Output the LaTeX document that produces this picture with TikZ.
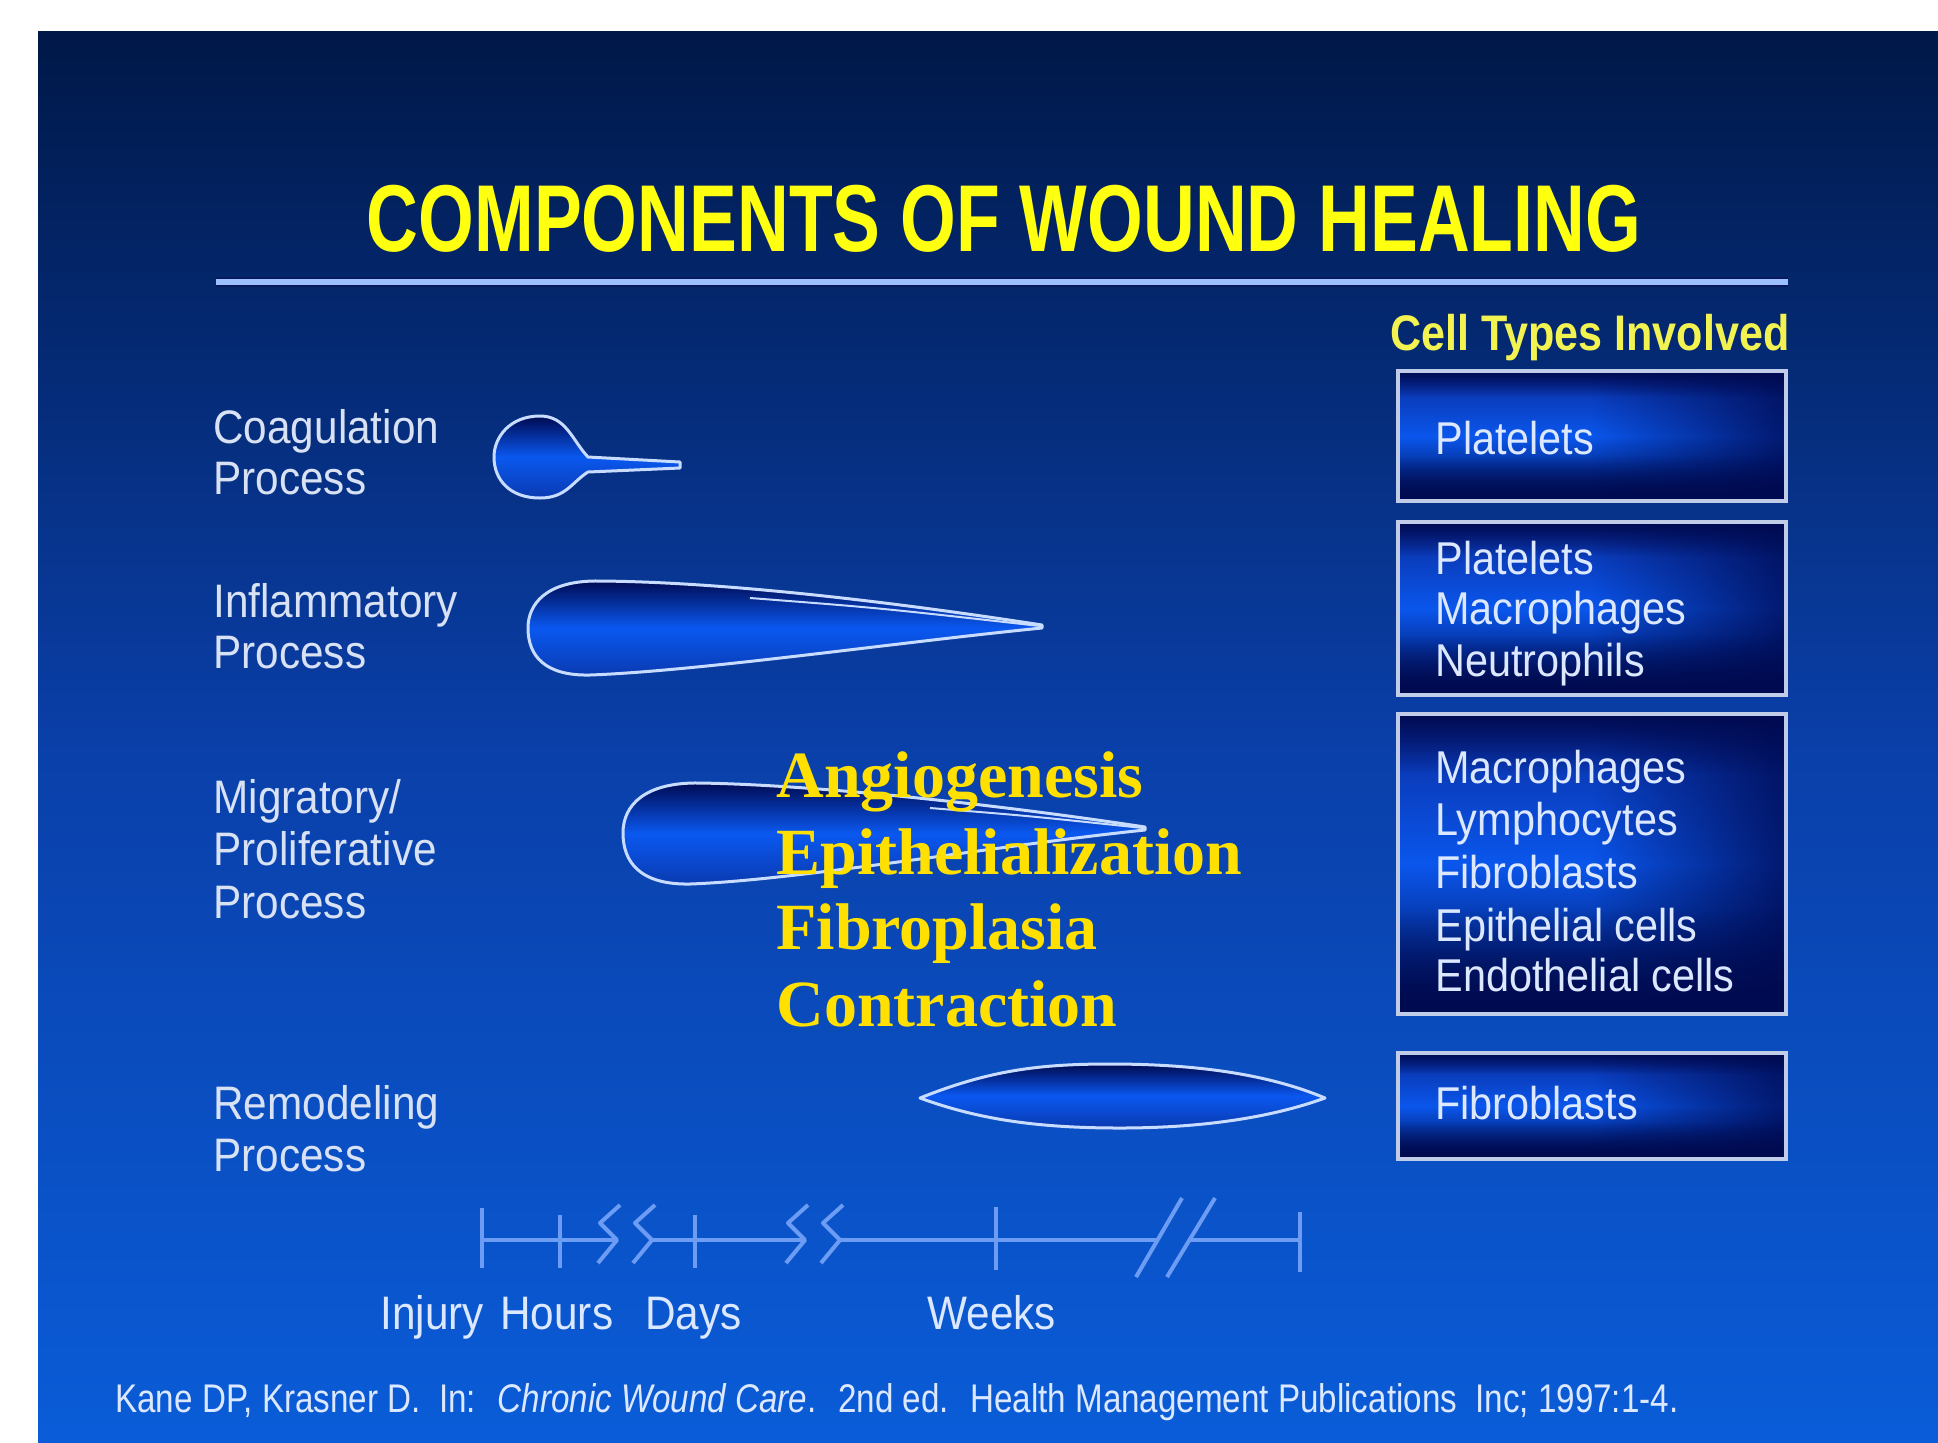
\documentclass[tikz,border=0pt]{standalone}
\usepackage{fontspec}
\setmainfont{Liberation Sans}
\newfontfamily\slidefont[FakeStretch=0.9]{Liberation Sans}
\newfontfamily\overfont{Liberation Serif}
\usepackage{graphicx}
\usetikzlibrary{fadings}
\definecolor{bgtop}{HTML}{001848}
\definecolor{bgmid}{HTML}{0A3FA8}
\definecolor{bgbot}{HTML}{0A5CD8}
\definecolor{titleyellow}{HTML}{FFFF10}
\definecolor{cellyellow}{HTML}{F2F250}
\definecolor{overyellow}{HTML}{FFE000}
\definecolor{labelcol}{HTML}{D8E2F4}
\definecolor{boxtext}{HTML}{DCE8FF}
\definecolor{tlcol}{HTML}{6C9CF4}
\definecolor{outlinecol}{HTML}{C8DCFF}
\definecolor{linelight}{HTML}{9CC0FF}
\definecolor{linedark}{HTML}{0A1860}
\definecolor{boxborder}{HTML}{C0CCE8}
\definecolor{boxtop}{HTML}{0A2C9C}
\definecolor{boxmid}{HTML}{0A56EC}
\definecolor{boxbot}{HTML}{000A48}
\definecolor{boxdark}{HTML}{000A50}
\definecolor{shapedark}{HTML}{000A50}
\definecolor{shapemid}{HTML}{0A58F0}
\definecolor{shapebot}{HTML}{0A3AB0}
\tikzfading[name=fadeR, left color=transparent!100, right color=transparent!0]
\tikzfading[name=fadeB, top color=transparent!100, bottom color=transparent!0]
\tikzfading[name=fadeT, top color=transparent!0, bottom color=transparent!100]
\newcommand\mycellbox[4]{%
  \shade[top color=boxtop, bottom color=boxbot, middle color=boxmid] (#1,#2) rectangle (#3,#4);
  \fill[boxdark, path fading=fadeR, opacity=0.8] ({#1+0.5*(#3-#1)},#2) rectangle (#3,#4);
  \fill[boxdark, path fading=fadeB] (#1,{#2+0.65*(#4-#2)}) rectangle (#3,#4);
  \fill[boxdark, path fading=fadeT] (#1,#2) rectangle (#3,{#2+0.2*(#4-#2)});
  \draw[boxborder, line width=2pt] (#1,#2) rectangle (#3,#4);
}
\tikzset{
  lbl/.style={anchor=base west, inner sep=0, text=labelcol, font=\slidefont\fontsize{23.5}{26}\selectfont},
  celltxt/.style={anchor=base west, inner sep=0, text=boxtext, font=\slidefont\fontsize{23}{26}\selectfont},
  tllbl/.style={anchor=base west, inner sep=0, text=boxtext, font=\slidefont\fontsize{23.5}{26}\selectfont},
  overtxt/.style={anchor=base west, inner sep=0, text=overyellow, font=\overfont\bfseries\fontsize{33}{38}\selectfont},
  wound/.style={draw=outlinecol, line width=1.5pt, line join=round, top color=shapedark, bottom color=shapebot, middle color=shapemid},
  innerline/.style={draw=outlinecol, line width=1pt},
  tline/.style={draw=tlcol, line width=2pt},
  zig/.pic={\draw[tlcol, line width=2pt, line join=round] (3,-35) -- (-17,-17) -- (0,0) -- (-19,23);}
}
\begin{document}
\begin{tikzpicture}[x=0.5pt,y=-0.5pt]
\useasboundingbox (0,0) rectangle (1938,1442);
\fill[white] (0,0) rectangle (1938,1442);
\shade[top color=bgtop, bottom color=bgbot, middle color=bgmid] (38,31) rectangle (1938,1442);

% title
\node[anchor=base, inner sep=0, text=titleyellow] (title) at (1004,251)
  {\resizebox{637pt}{\height}{\fontsize{47.5}{50}\selectfont\bfseries COMPONENTS OF WOUND HEALING}};
\coordinate (hl) at (216,282);
\coordinate (hr) at (1788,282);
\draw[linedark, line width=5pt] (hl) -- (hr);
\draw[linelight, line width=3pt] (hl) -- (hr);

% cell types header
\node[anchor=base west, inner sep=0, text=cellyellow] (celltypes) at (1390,350)
  {\resizebox{199.5pt}{\height}{\fontsize{25}{28}\selectfont\bfseries Cell Types Involved}};

% left labels
\node[lbl] (c1) at (213,443) {Coagulation};
\node[lbl] (c2) at (213,494) {Process};
\node[lbl] (i1) at (213,617) {Inflammatory};
\node[lbl] (i2) at (213,668) {Process};
\node[lbl] (m1) at (213,813) {Migratory/};
\node[lbl] (m2) at (213,865) {Proliferative};
\node[lbl] (m3) at (213,918) {Process};
\node[lbl] (r1) at (213,1119) {Remodeling};
\node[lbl] (r2) at (213,1171) {Process};

% wound shapes
\path[wound] (588,457) -- (680,462) -- (680,468) -- (588,472)
  .. controls (572,482) and (566,498) .. (540,498)
  .. controls (510,498) and (494,480) .. (494,457)
  .. controls (494,437) and (510,416) .. (540,416)
  .. controls (566,416) and (572,440) .. cycle;

\path[wound] (1042,625) .. controls (880,600) and (720,582) .. (600,581)
  .. controls (545,580) and (528,605) .. (528,628)
  .. controls (528,656) and (545,676) .. (590,675)
  .. controls (700,671) and (900,642) .. (1042,628) -- cycle;
\draw[innerline] (750,598) .. controls (880,608) .. (1040,626);

\path[wound] (1145,827) .. controls (1000,805) and (820,785) .. (700,783)
  .. controls (645,782) and (623,805) .. (623,833)
  .. controls (623,862) and (640,885) .. (690,884)
  .. controls (800,880) and (1000,845) .. (1145,830) -- cycle;
\draw[innerline] (930,808) .. controls (1030,816) .. (1143,828);

\path[wound] (920,1098) .. controls (990,1070) and (1040,1064) .. (1110,1064)
  .. controls (1200,1064) and (1270,1075) .. (1325,1098)
  .. controls (1270,1118) and (1200,1128) .. (1120,1128)
  .. controls (1040,1128) and (980,1120) .. cycle;

% overlay text
\node[overtxt] (o1) at (776,797) {Angiogenesis};
\node[overtxt] (o2) at (776,874) {Epithelialization};
\node[overtxt] (o3) at (776,949) {Fibroplasia};
\node[overtxt] (o4) at (776,1026) {Contraction};

% cell boxes
\mycellbox{1398}{371}{1786}{501}
\mycellbox{1398}{522}{1786}{695}
\mycellbox{1398}{714}{1786}{1014}
\mycellbox{1398}{1053}{1786}{1159}
\node[celltxt] (b1) at (1435,454) {Platelets};
\node[celltxt] (b2a) at (1435,574) {Platelets};
\node[celltxt] (b2b) at (1435,624) {Macrophages};
\node[celltxt] (b2c) at (1435,676) {Neutrophils};
\node[celltxt] (b3a) at (1435,783) {Macrophages};
\node[celltxt] (b3b) at (1435,835) {Lymphocytes};
\node[celltxt] (b3c) at (1435,888) {Fibroblasts};
\node[celltxt] (b3d) at (1435,941) {Epithelial cells};
\node[celltxt] (b3e) at (1435,991) {Endothelial cells};
\node[celltxt] (b4) at (1435,1119) {Fibroblasts};

% timeline
\coordinate (t0) at (482,1240);
\coordinate (z1) at (617,1240);
\coordinate (z2) at (652,1240);
\coordinate (z3) at (805,1240);
\coordinate (z4) at (840,1240);
\coordinate (s1) at (1158,1240);
\coordinate (s2) at (1190,1240);
\coordinate (t4) at (1300,1240);
\draw[tline] (t0) -- (z1);
\draw[tline] (z2) -- (z3);
\draw[tline] (z4) -- (s1);
\draw[tline] (s2) -- (t4);
\draw[tline] (482,1208) -- (482,1268);
\draw[tline] (560,1215) -- (560,1268);
\draw[tline] (695,1215) -- (695,1268);
\draw[tline] (996,1207) -- (996,1270);
\draw[tline] (1300,1212) -- (1300,1272);
\pic at (z1) {zig};
\pic at (z2) {zig};
\pic at (z3) {zig};
\pic at (z4) {zig};
\draw[tline] (1182,1198) -- (1136,1277);
\draw[tline] (1215,1198) -- (1167,1277);
\node[tllbl] (l1) at (380,1329) {Injury};
\node[tllbl] (l2) at (500,1329) {Hours};
\node[tllbl] (l3) at (645,1329) {Days};
\node[tllbl] (l4) at (927,1329) {Weeks};

% citation
\node[anchor=base west, inner sep=0, text=boxtext] (cite) at (115,1412)
  {\resizebox{781.5pt}{\height}{\fontsize{20}{22}\selectfont Kane DP, Krasner D. \ In: \ \textit{Chronic Wound Care}. \ 2nd ed. \ Health Management Publications \ Inc; 1997:1-4.}};
\end{tikzpicture}
\end{document}
